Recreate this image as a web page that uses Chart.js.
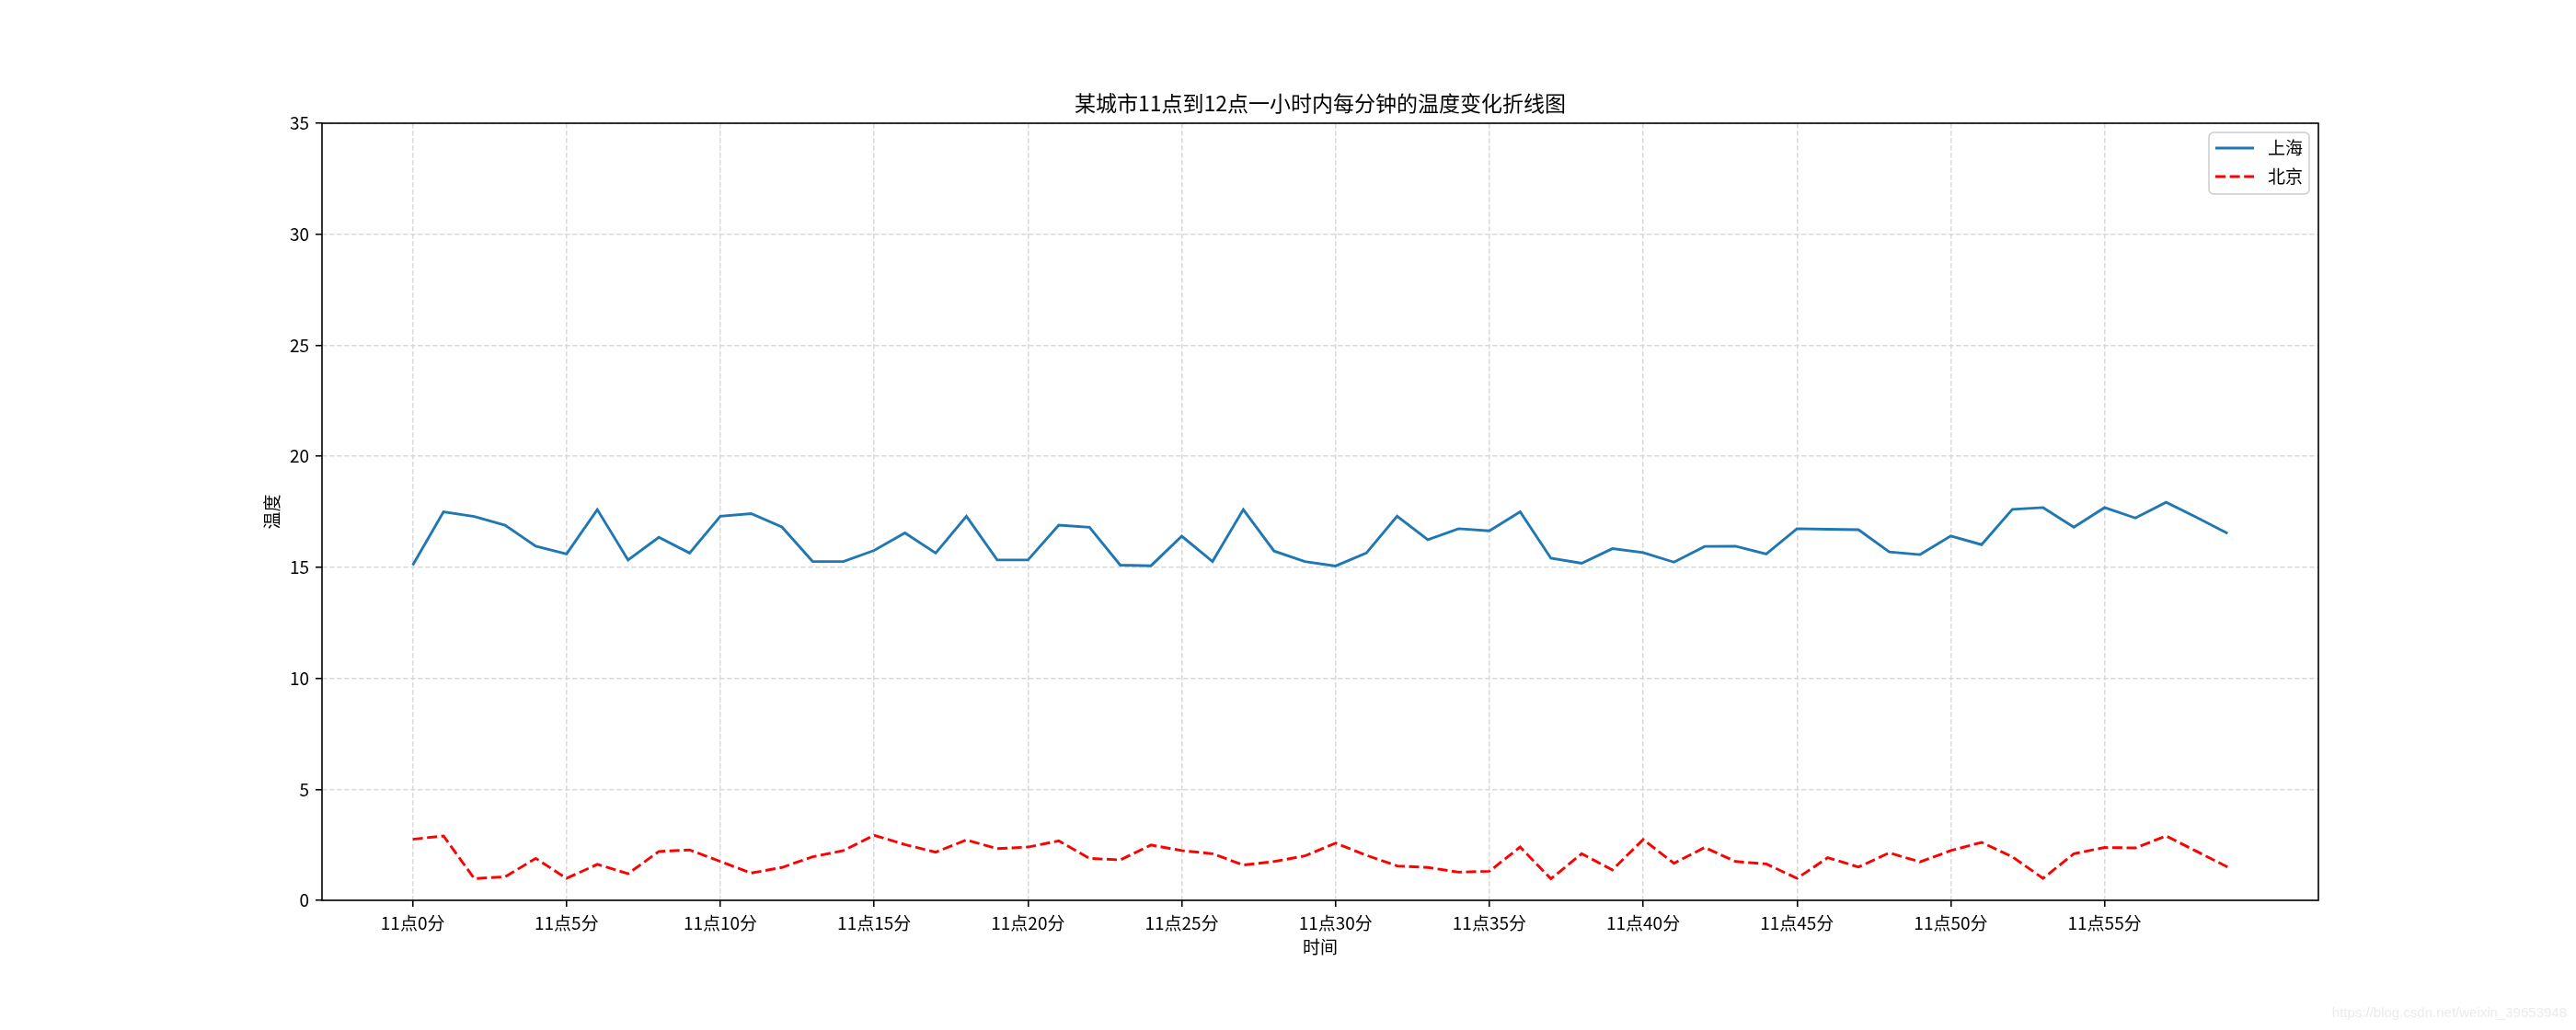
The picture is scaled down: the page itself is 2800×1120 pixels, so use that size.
<!DOCTYPE html>
<html>
<head>
<meta charset="utf-8">
<script src="https://cdn.jsdelivr.net/npm/chart.js@4/dist/chart.umd.min.js"></script>
<style>
  html, body { margin: 0; padding: 0; background: #fff; }
  #wrap { width: 2800px; height: 1120px; }
</style>
</head>
<body>
<div id="wrap"><canvas id="tempChart" width="2800" height="1120"></canvas></div>
<script>
// ==========================================================
// 1. DATA
// ==========================================================
const minutes = [
  0, 1, 2, 3, 4, 5, 6, 7, 8, 9, 10, 11, 12, 13, 14, 15, 16, 17, 18, 19,
  20, 21, 22, 23, 24, 25, 26, 27, 28, 29, 30, 31, 32, 33, 34, 35, 36, 37, 38, 39,
  40, 41, 42, 43, 44, 45, 46, 47, 48, 49, 50, 51, 52, 53, 54, 55, 56, 57, 58, 59
];

const shanghaiTemps = [
  15.10, 17.50, 17.29, 16.90, 15.95, 15.60, 17.60, 15.33, 16.35, 15.64,
  17.30, 17.42, 16.82, 15.26, 15.26, 15.76, 16.55, 15.64, 17.30, 15.33,
  15.33, 16.90, 16.80, 15.10, 15.07, 16.40, 15.26, 17.60, 15.73, 15.26,
  15.06, 15.64, 17.30, 16.24, 16.74, 16.64, 17.50, 15.41, 15.18, 15.84,
  15.66, 15.23, 15.94, 15.95, 15.60, 16.74, 16.71, 16.69, 15.69, 15.57,
  16.41, 16.02, 17.61, 17.69, 16.81, 17.69, 17.22, 17.93, 17.24, 16.53
];

const beijingTemps = [
  2.75, 2.90, 0.98, 1.06, 1.89, 0.99, 1.62, 1.20, 2.20, 2.27,
  1.75, 1.23, 1.48, 1.96, 2.24, 2.93, 2.51, 2.17, 2.72, 2.33,
  2.40, 2.68, 1.89, 1.82, 2.49, 2.24, 2.10, 1.59, 1.75, 2.00,
  2.58, 2.03, 1.55, 1.48, 1.27, 1.31, 2.40, 0.97, 2.10, 1.37,
  2.74, 1.67, 2.38, 1.75, 1.64, 0.99, 1.92, 1.50, 2.14, 1.73,
  2.24, 2.61, 1.96, 0.99, 2.10, 2.38, 2.36, 2.90, 2.20, 1.50
];

const xTickValues = [0, 5, 10, 15, 20, 25, 30, 35, 40, 45, 50, 55];
const xTickLabels = [
  '11点0分', '11点5分', '11点10分', '11点15分', '11点20分', '11点25分',
  '11点30分', '11点35分', '11点40分', '11点45分', '11点50分', '11点55分'
];

const seriesNames = ['上海', '北京'];
const chartTitle = '某城市11点到12点一小时内每分钟的温度变化折线图';
const xAxisTitle = '时间';
const yAxisTitle = '温度';
const watermarkText = 'https://blog.csdn.net/weixin_39653948';

// ==========================================================
// 2. STYLE / PLUGINS
// ==========================================================
const FONT = '"Noto Sans CJK SC", "Noto Sans", "DejaVu Sans", sans-serif';
const GRID_COLOR = '#d9d9d9';

// Title centred over the plot area (matplotlib style)
const titlePlugin = {
    id: 'axesTitle',
    afterDraw(chart) {
        const { ctx, chartArea: a } = chart;
        ctx.save();
        ctx.fillStyle = '#000';
        ctx.font = '23px ' + FONT;
        ctx.textAlign = 'center';
        ctx.textBaseline = 'middle';
        ctx.fillText(chartTitle, (a.left + a.right) / 2, a.top - 22);
        ctx.restore();
    }
};

// Frame (spines on all four sides)
const framePlugin = {
    id: 'frame',
    afterDraw(chart) {
        const { ctx, chartArea: a } = chart;
        ctx.save();
        ctx.strokeStyle = '#000';
        ctx.lineWidth = 1.6;
        ctx.strokeRect(a.left, a.top, a.right - a.left, a.bottom - a.top);
        ctx.restore();
    }
};

// Legend box in the upper right corner of the plot
const legendPlugin = {
    id: 'innerLegend',
    afterDraw(chart) {
        const { ctx, chartArea: a } = chart;
        const w = 109, h = 67;
        const x = a.right - 10 - w, y = a.top + 10;
        ctx.save();
        ctx.fillStyle = 'rgba(255,255,255,0.8)';
        ctx.strokeStyle = '#cccccc';
        ctx.lineWidth = 1.5;
        ctx.beginPath();
        if (ctx.roundRect) ctx.roundRect(x, y, w, h, 5); else ctx.rect(x, y, w, h);
        ctx.fill();
        ctx.stroke();

        chart.data.datasets.forEach((ds, i) => {
            const rowY = y + 17 + i * 31;
            ctx.strokeStyle = ds.borderColor;
            ctx.lineWidth = ds.borderWidth;
            ctx.setLineDash(ds.borderDash || []);
            ctx.beginPath();
            ctx.moveTo(x + 7, rowY);
            ctx.lineTo(x + 49, rowY);
            ctx.stroke();
            ctx.setLineDash([]);
            ctx.fillStyle = '#000';
            ctx.font = '19px ' + FONT;
            ctx.textBaseline = 'middle';
            ctx.textAlign = 'left';
            ctx.fillText(ds.label, x + 64, rowY);
        });
        ctx.restore();
    }
};

// Faint blog watermark, bottom right
const watermarkPlugin = {
    id: 'watermark',
    afterDraw(chart) {
        const ctx = chart.ctx;
        ctx.save();
        ctx.fillStyle = '#ebebeb';
        ctx.font = '15px "Liberation Sans", Arial, sans-serif';
        ctx.textAlign = 'right';
        ctx.textBaseline = 'middle';
        ctx.fillText(watermarkText, 2790, 1102);
        ctx.restore();
    }
};

// ==========================================================
// 3. RENDER CHART
// ==========================================================
function renderChart() {
    const ctx = document.getElementById('tempChart').getContext('2d');

    const gridOpts = {
        color: GRID_COLOR,
        lineWidth: 1.5,
        drawTicks: true,
        tickLength: 7,
        tickColor: '#000',
        tickWidth: 1.6,
        tickBorderDash: []
    };

    new Chart(ctx, {
        type: 'line',
        data: {
            labels: minutes,
            datasets: [{
                label: seriesNames[0],
                data: shanghaiTemps,
                borderColor: '#1f77b4',
                borderWidth: 2.9,
                pointRadius: 0,
                tension: 0,
                fill: false
            }, {
                label: seriesNames[1],
                data: beijingTemps,
                borderColor: '#ff0000',
                borderWidth: 2.9,
                borderDash: [11, 4.6],
                pointRadius: 0,
                tension: 0,
                fill: false
            }]
        },
        options: {
            responsive: false,
            animation: false,
            devicePixelRatio: 1,
            layout: { padding: { left: 0, right: 280, top: 134, bottom: 0 } },
            plugins: {
                legend: { display: false },
                tooltip: { enabled: false },
                title: { display: false }
            },
            scales: {
                x: {
                    type: 'linear',
                    min: -2.95,
                    max: 61.95,
                    afterFit: (scale) => { scale.height = 141; },
                    afterBuildTicks: (scale) => {
                        scale.ticks = xTickValues.map(v => ({ value: v }));
                    },
                    border: { display: false, dash: [5.5, 2.5] },
                    grid: gridOpts,
                    ticks: {
                        autoSkip: false,
                        maxRotation: 0,
                        padding: 6,
                        color: '#000',
                        font: { family: FONT, size: 19 },
                        callback: (v) => {
                            const idx = xTickValues.indexOf(v);
                            return idx >= 0 ? xTickLabels[idx] : '';
                        }
                    },
                    title: {
                        display: true,
                        text: xAxisTitle,
                        color: '#000',
                        font: { family: FONT, size: 19, lineHeight: 1.2 },
                        padding: { top: 0, bottom: 79 }
                    }
                },
                y: {
                    min: 0,
                    max: 35,
                    afterFit: (scale) => { scale.width = 350; },
                    border: { display: false, dash: [5.5, 2.5] },
                    grid: gridOpts,
                    ticks: {
                        stepSize: 5,
                        padding: 7,
                        color: '#000',
                        font: { family: FONT, size: 19 }
                    },
                    title: {
                        display: true,
                        text: yAxisTitle,
                        color: '#000',
                        font: { family: FONT, size: 19, lineHeight: 1.2 },
                        padding: { top: 284, bottom: 0 }
                    }
                }
            }
        },
        plugins: [titlePlugin, framePlugin, legendPlugin, watermarkPlugin]
    });
}

document.addEventListener('DOMContentLoaded', renderChart);
</script>
</body>
</html>
